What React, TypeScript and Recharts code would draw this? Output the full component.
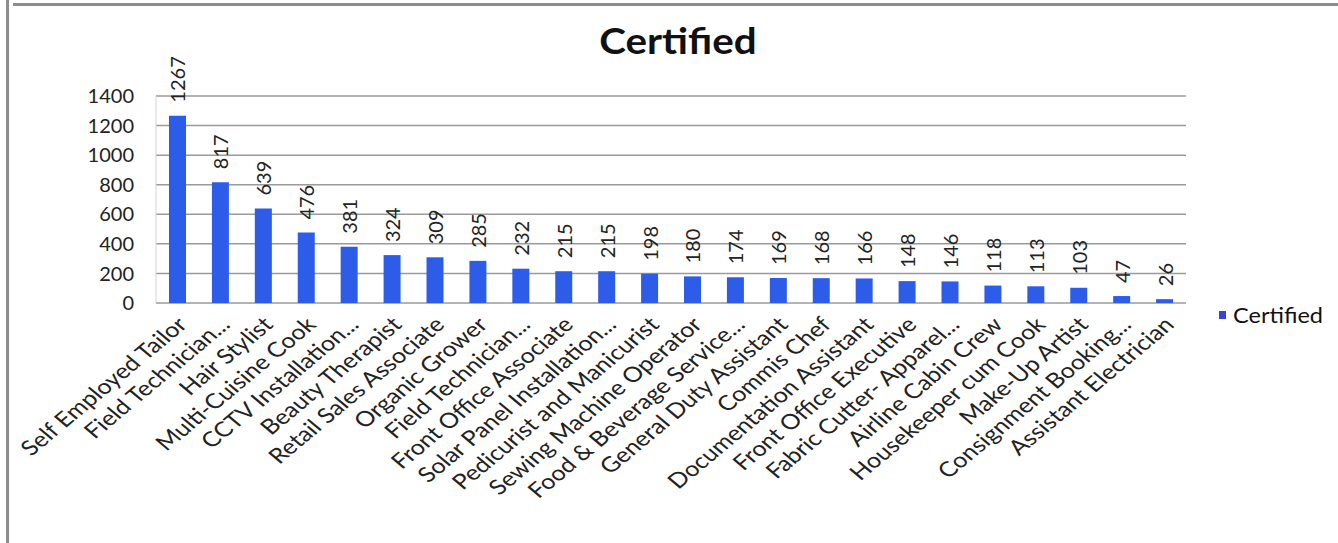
import { BarChart, Bar, XAxis, YAxis, CartesianGrid, LabelList } from 'recharts';

// Certified candidates per job role
const jobRoles = [
  'Self Employed Tailor',
  'Field Technician...',
  'Hair Stylist',
  'Multi-Cuisine Cook',
  'CCTV Installation...',
  'Beauty Therapist',
  'Retail Sales Associate',
  'Organic Grower',
  'Field Technician...',
  'Front Office Associate',
  'Solar Panel Installation...',
  'Pedicurist and Manicurist',
  'Sewing Machine Operator',
  'Food & Beverage Service...',
  'General Duty Assistant',
  'Commis Chef',
  'Documentation Assistant',
  'Front Office Executive',
  'Fabric Cutter- Apparel...',
  'Airline Cabin Crew',
  'Housekeeper cum Cook',
  'Make-Up Artist',
  'Consignment Booking...',
  'Assistant Electrician',
];

const certified = [
  1267, 817, 639, 476, 381, 324, 309, 285, 232, 215, 215, 198, 180, 174, 169, 168, 166, 148,
  146, 118, 113, 103, 47, 26,
];

const yTicks = [0, 200, 400, 600, 800, 1000, 1200, 1400];

const FONT = 'Lato, "Open Sans", sans-serif';
const BAR_COLOR = '#2d5de8';

const chartData = jobRoles.map((name, i) => ({ id: i, name, value: certified[i] }));

const RoleTick = ({ x, y, payload }: any) => (
  <g transform={`translate(${x + 11},${y + 15}) scale(1.2,1) rotate(-45)`}>
    <text textAnchor="end" fontSize={21} fontFamily={FONT} fill="#222">
      {jobRoles[payload.value]}
    </text>
  </g>
);

const ValueLabel = ({ x, y, width, value }: any) => {
  const cx = x + width / 2;
  const cy = y - 13;
  return (
    <text
      x={cx}
      y={cy}
      transform={`rotate(-90 ${cx} ${cy})`}
      textAnchor="start"
      dominantBaseline="central"
      fontSize={20}
      fontFamily={FONT}
      fill="#222"
    >
      {value}
    </text>
  );
};

export default function App() {
  return (
    <div
      style={{
        position: 'absolute',
        left: 0,
        top: 0,
        width: 1338,
        height: 543,
        background: '#fff',
        fontFamily: FONT,
        overflow: 'hidden',
      }}
    >
      {/* frame edges */}
      <div style={{ position: 'absolute', left: 13, top: 3, right: 0, height: 3, background: '#8c8c8c' }} />
      <div style={{ position: 'absolute', left: 6, top: 0, bottom: 0, width: 3, background: '#8c8c8c' }} />

      <div
        style={{
          position: 'absolute',
          left: 0,
          right: 0,
          top: 18,
          textAlign: 'center',
          paddingLeft: 16,
          fontSize: 36,
          fontWeight: 700,
          color: '#111',
          transform: 'scaleX(1.12)',
        }}
      >
        Certified
      </div>

      <BarChart
        width={1338}
        height={543}
        data={chartData}
        margin={{ top: 96, right: 152, left: 96, bottom: 0 }}
        barCategoryGap={0}
      >
        <CartesianGrid vertical={false} stroke="#9a9a9a" strokeWidth={1.5} />
        <XAxis
          dataKey="id"
          type="category"
          height={240}
          interval={0}
          axisLine={false}
          tickLine={false}
          tick={<RoleTick />}
        />
        <YAxis
          domain={[0, 1400]}
          ticks={yTicks}
          width={60}
          axisLine={{ stroke: '#d4d4d4' }}
          tickLine={false}
          tickSize={0}
          tickMargin={22}
          tick={{ fontSize: 20, fontFamily: FONT, fill: '#222' }}
        />
        <Bar dataKey="value" fill={BAR_COLOR} barSize={17} isAnimationActive={false}>
          <LabelList dataKey="value" content={<ValueLabel />} />
        </Bar>
      </BarChart>

      {/* legend */}
      <div style={{ position: 'absolute', left: 1219, top: 302, display: 'flex', alignItems: 'center' }}>
        <div style={{ width: 7, height: 8, background: '#3b3fe0', marginRight: 7 }} />
        <span
          style={{
            fontSize: 21,
            color: '#111',
            display: 'inline-block',
            transform: 'scaleX(1.12)',
            transformOrigin: 'left center',
          }}
        >
          Certified
        </span>
      </div>
    </div>
  );
}
